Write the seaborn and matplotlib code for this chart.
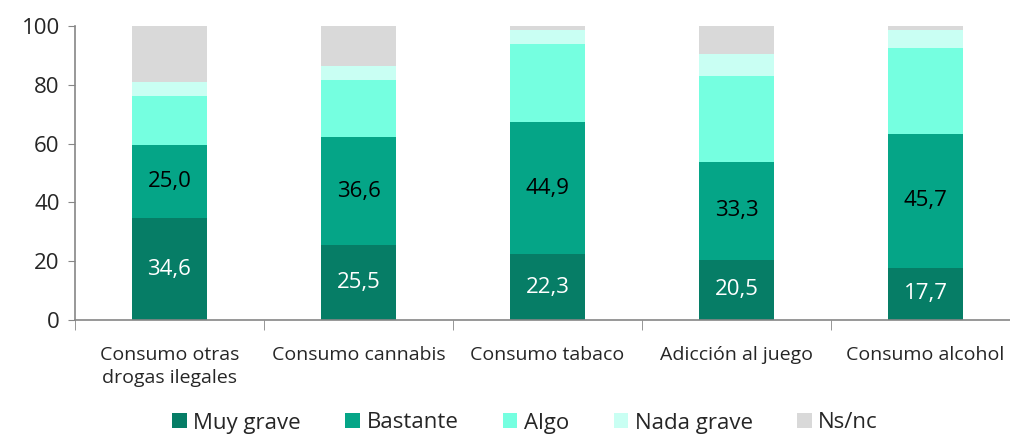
import numpy as np
import pandas as pd
import matplotlib
matplotlib.use("Agg")
import matplotlib.pyplot as plt
import seaborn as sns
from matplotlib.patches import Patch

categories = ["Consumo otras\ndrogas ilegales", "Consumo cannabis", "Consumo tabaco",
              "Adicción al juego", "Consumo alcohol"]
muy_grave = [34.6, 25.5, 22.3, 20.5, 17.7]
bastante = [25.0, 36.6, 44.9, 33.3, 45.7]
algo = [16.6, 19.6, 26.7, 29.1, 29.1]
nada_grave = [4.9, 4.8, 4.9, 7.5, 6.3]
ns_nc = [18.9, 13.5, 1.2, 9.6, 1.2]
series_names = ["Muy grave", "Bastante", "Algo", "Nada grave", "Ns/nc"]
colors = ["#067D66", "#05A587", "#75FFE0", "#C9FFF3", "#D9D9D9"]

sns.set_style("white")
plt.rcParams['font.family'] = ['Open Sans', 'DejaVu Sans']

series = [muy_grave, bastante, algo, nada_grave, ns_nc]
cum = np.cumsum(np.array(series), axis=0)

fig = plt.figure(figsize=(10.10, 4.37), dpi=100)
ax = fig.add_axes([75/1010, (437-320)/437, (1020-75)/1010, (320-26)/437])

# draw cumulative bars from top down so they stack visually
for i in range(len(series) - 1, -1, -1):
    df = pd.DataFrame({"cat": categories, "val": cum[i]})
    sns.barplot(data=df, x="cat", y="val", color=colors[i], width=0.4,
                saturation=1, ax=ax, zorder=2, linewidth=0)

# value labels
for j in range(len(categories)):
    ax.text(j, muy_grave[j] / 2, f"{muy_grave[j]:.1f}".replace(".", ","),
            ha="center", va="center", color="white", fontsize=16)
    ax.text(j, muy_grave[j] + bastante[j] / 2, f"{bastante[j]:.1f}".replace(".", ","),
            ha="center", va="center", color="black", fontsize=16)

ax.set_ylim(0, 100)
ax.set_xlim(-0.5, 4.5)
ax.set_yticks([0, 20, 40, 60, 80, 100])
ax.set_xlabel("")
ax.set_ylabel("")
ax.tick_params(axis="y", labelsize=16, length=5, color="#868686", direction="out", left=True, pad=6)
ax.tick_params(axis="x", labelsize=14, length=0, pad=19)
ax.set_xticks(range(len(categories)))
ax.set_xticklabels(categories, linespacing=1.3)
ax.set_xticks(np.arange(-0.5, 5.0, 1.0), minor=True)
ax.tick_params(axis="x", which="minor", length=7, color="#868686", direction="out", bottom=True)
for s in ["top", "right"]:
    ax.spines[s].set_visible(False)
for s in ["left", "bottom"]:
    ax.spines[s].set_color("#868686")
    ax.spines[s].set_linewidth(1.2)

handles = [Patch(facecolor=c, edgecolor="none", label=n) for c, n in zip(colors, series_names)]
fig.legend(handles=handles, loc="center", bbox_to_anchor=(525/1010, 1 - 423/437), ncol=5,
           frameon=False, fontsize=16, handlelength=0.65, handleheight=0.65,
           handletextpad=0.3, columnspacing=2.0, borderpad=0.1)

fig.savefig("out.png", dpi=100)
